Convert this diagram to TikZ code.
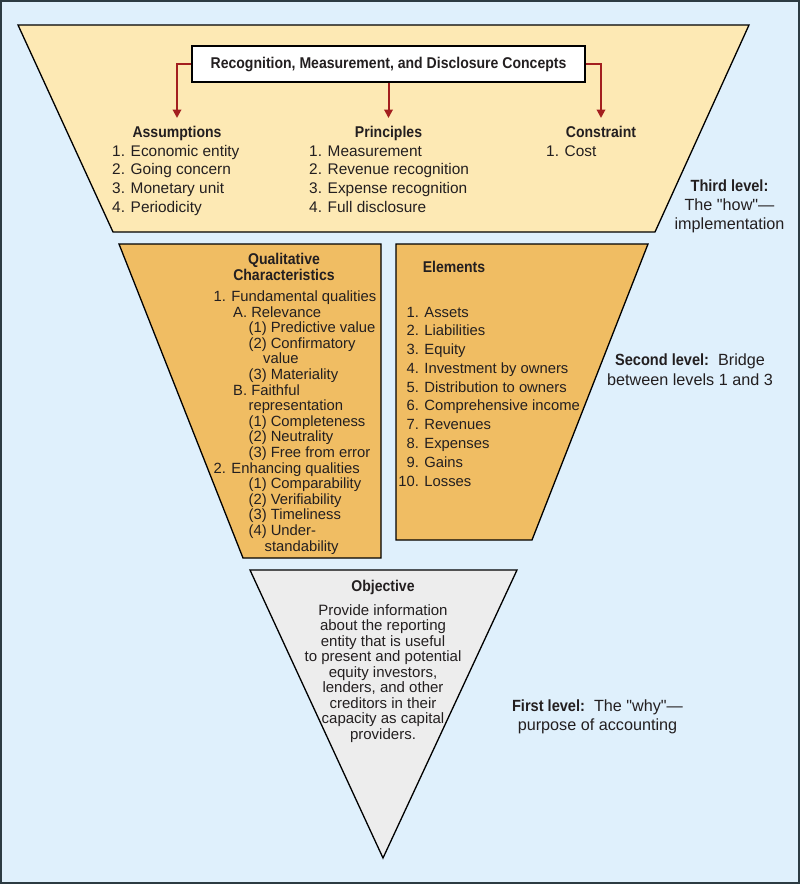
\documentclass[tikz,border=0pt]{standalone}
\usepackage{fontspec}
\setmainfont{Liberation Sans}[Ligatures=TeXOff]
\newfontfamily\hdfont{Liberation Sans}[FakeStretch=0.9,Ligatures=TeXOff]
\usetikzlibrary{arrows.meta}
\definecolor{bgblue}{HTML}{DFF0FC}
\definecolor{framecol}{HTML}{2C3B42}
\definecolor{topfill}{HTML}{FDE9B4}
\definecolor{midfill}{HTML}{F0BD63}
\definecolor{objfill}{HTML}{EDEDED}
\definecolor{arrowred}{HTML}{A31F1F}
\definecolor{ink}{HTML}{231F20}
\newcommand{\bfx}{\hdfont\bfseries}
\tikzset{
  txt/.style={inner sep=0pt, text=ink},
  headfont/.style={font=\hdfont\bfseries\fontsize{15.6}{18}\selectfont},
  tophead/.style={txt, anchor=base, headfont},
  topitem/.style={txt, anchor=base west, font=\fontsize{15.4}{18}\selectfont},
  midhead/.style={txt, anchor=base, headfont},
  miditem/.style={txt, anchor=base west, font=\fontsize{14.8}{17}\selectfont},
  objtxt/.style={txt, anchor=base, font=\fontsize{15}{17}\selectfont},
  lbl/.style={txt, anchor=base, font=\fontsize{16.2}{19}\selectfont},
  lblbf/.style={txt, anchor=base, font=\hdfont\bfseries\fontsize{16.2}{19}\selectfont},
  outline/.style={draw=black, line width=1.3pt, line join=miter},
  rmdbox/.style={draw=black, line width=1.3pt, fill=white, minimum width=393pt,
    minimum height=36pt, inner sep=0pt, text=ink, headfont},
  conn/.style={draw=arrowred, line width=2pt, -{Triangle[length=8.5pt,width=8.5pt]}, shorten >=7.5pt},
}
\begin{document}
\begin{tikzpicture}[x=1pt,y=-1pt]
\useasboundingbox (0,0) rectangle (800,884);
\fill[bgblue] (0,0) rectangle (800,884);
\draw[framecol, line width=2pt] (1,1) rectangle (799,883);

% shapes
\draw[outline, fill=topfill] (18,25) -- (749,25) -- (655,232) -- (113,232) -- cycle;
\draw[outline, fill=midfill] (119,244) -- (381,244) -- (381,558) -- (243,558) -- cycle;
\draw[outline, fill=midfill] (396,244) -- (648,244) -- (532,540) -- (396,540) -- cycle;
\draw[outline, fill=objfill] (250,570) -- (517,570) -- (383,858) -- cycle;

% third level
\node[rmdbox] (rmd) at (388.5,64) {Recognition, Measurement, and Disclosure Concepts};
\node[tophead] (assum) at (177,137) {Assumptions};
\node[tophead] (princ) at (388.5,137) {Principles};
\node[tophead] (constr) at (601,137) {Constraint};
\draw[conn] (rmd.west) -| (assum.north);
\draw[conn] (rmd.south) -- (princ.north);
\draw[conn] (rmd.east) -| (constr.north);

\foreach \t [count=\i] in {Economic entity, Going concern, Monetary unit, Periodicity}
  \node[topitem] (as\i) at (112, {156+18.67*(\i-1)}) {\i. \t};
\foreach \t [count=\i] in {Measurement, Revenue recognition, Expense recognition, Full disclosure}
  \node[topitem] (pr\i) at (309, {156+18.67*(\i-1)}) {\i. \t};
\node[topitem] (co1) at (546,156) {1. Cost};

\node[lblbf] (l3a) at (729.5,191) {Third level:};
\node[lbl] (l3b) at (729.5,210) {The "how"—};
\node[lbl] (l3c) at (729.5,229) {implementation};

% second level: qualitative characteristics
\node[midhead] (qc1) at (284,264) {Qualitative};
\node[midhead] (qc2) at (284,280.5) {Characteristics};
\foreach \dx/\t [count=\i] in {0/1. Fundamental qualities, 19.6/A. Relevance,
    35/(1) Predictive value, 35/(2) Confirmatory, 49.6/value, 35/(3) Materiality,
    19.6/B. Faithful, 35/representation, 35/(1) Completeness, 35/(2) Neutrality,
    35/(3) Free from error, 0/2. Enhancing qualities, 35/(1) Comparability,
    35/(2) Verifiability, 35/(3) Timeliness, 35/(4) Under-, 51/standability}
  \node[miditem] (qi\i) at ({213.4+\dx}, {301.5+15.6*(\i-1)}) {\t};

% second level: elements
\node[midhead] (elh) at (454,272) {Elements};
\foreach \t [count=\i] in {Assets, Liabilities, Equity, Investment by owners,
    Distribution to owners, Comprehensive income, Revenues, Expenses, Gains}
  \node[miditem] (el\i) at (406.4, {317+18.78*(\i-1)}) {\i. \t};
\node[miditem] (el10) at (398.2, {317+18.78*9}) {10. Losses};

\node[lbl] (l2a) at (690,365.5) {{\bfx Second level:}\ \ Bridge};
\node[lbl] (l2b) at (690,385.5) {between levels 1 and 3};

% first level
\node[midhead] (objh) at (383,591) {Objective};
\foreach \t [count=\i] in {Provide information, about the reporting, entity that is useful,
    to present and potential, {equity investors,}, {lenders, and other},
    creditors in their, capacity as capital, providers.}
  \node[objtxt] (ob\i) at (383, {615+15.55*(\i-1)}) {\t};

\node[lbl] (l1a) at (597.5,711) {{\bfx First level:}\ \ The "why"—};
\node[lbl] (l1b) at (597.5,730) {purpose of accounting};
\end{tikzpicture}
\end{document}
